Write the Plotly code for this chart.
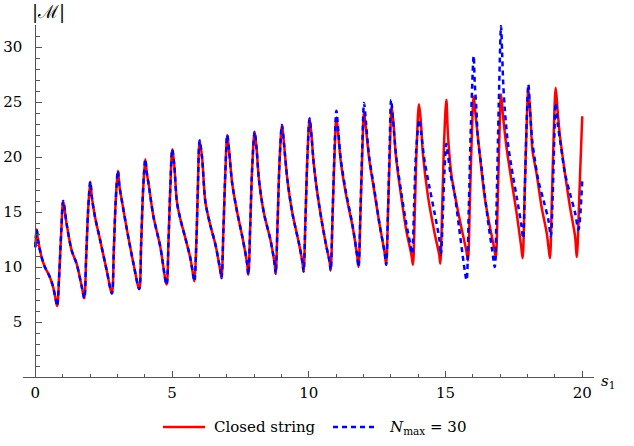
import plotly.graph_objects as go

# ---- data ----
# shared part (both curves coincide up to s ~ 10.8)
s_shared = [0.00, 0.05, 0.10, 0.23, 0.35, 0.53, 0.65, 0.75, 0.80,
            0.88, 0.95, 1.02, 1.14, 1.33, 1.51, 1.70, 1.79,
            1.86, 1.93, 2.01, 2.07, 2.18, 2.37, 2.61, 2.80,
            2.87, 2.94, 3.02, 3.08, 3.16, 3.35, 3.59, 3.80,
            3.87, 3.94, 4.02, 4.08, 4.14, 4.32, 4.57, 4.80,
            4.87, 4.93, 5.01, 5.08, 5.18, 5.30, 5.49, 5.67, 5.79, 5.82,
            5.89, 5.94, 6.01, 6.10, 6.22, 6.40, 6.59, 6.77, 6.81,
            6.88, 6.95, 7.02, 7.09, 7.20, 7.38, 7.57, 7.74, 7.79,
            7.86, 7.93, 8.02, 8.09, 8.18, 8.36, 8.60, 8.75, 8.79,
            8.86, 8.93, 9.02, 9.09, 9.22, 9.40, 9.64, 9.77, 9.81,
            9.88, 9.95, 10.03, 10.10, 10.19, 10.38, 10.62, 10.76, 10.80]
m_shared = [11.8, 13.4, 12.45, 10.9, 10.0, 9.1, 8.2, 7.0, 6.45,
            9.6, 13.3, 16.0, 14.0, 11.5, 10.3, 8.2, 7.15,
            10.9, 15.1, 17.75, 16.3, 14.6, 12.45, 9.7, 7.6,
            11.5, 16.0, 18.75, 17.3, 16.1, 13.4, 10.3, 8.0,
            12.1, 16.9, 19.8, 18.5, 17.6, 14.6, 11.85, 8.4,
            12.3, 16.8, 20.7, 19.3, 15.9, 14.4, 12.6, 10.8, 9.0, 8.7,
            12.3, 16.8, 21.5, 19.9, 15.9, 13.8, 12.0, 9.6, 9.0,
            13.5, 18.7, 22.0, 20.5, 17.6, 15.0, 12.75, 10.4, 9.3,
            13.8, 19.0, 22.3, 20.8, 17.9, 14.9, 12.45, 10.3, 9.4,
            14.1, 19.5, 22.9, 21.3, 17.9, 14.9, 12.15, 10.4, 9.6,
            14.5, 20.0, 23.5, 21.9, 19.2, 15.6, 12.15, 10.5, 9.7]

# closed string, remaining part
s_closed_tail = [10.87, 10.94, 11.01, 11.08, 11.17, 11.36, 11.60, 11.77, 11.82,
                 11.89, 11.96, 12.02, 12.09, 12.21, 12.40, 12.58, 12.78, 12.83,
                 12.90, 12.97, 13.03, 13.10, 13.19, 13.38, 13.56, 13.76, 13.81,
                 13.88, 13.95, 14.03, 14.10, 14.17, 14.36, 14.60, 14.77, 14.81,
                 14.88, 14.95, 15.03, 15.09, 15.21, 15.33, 15.57, 15.76, 15.82,
                 15.89, 15.96, 16.03, 16.10, 16.25, 16.43, 16.62, 16.79, 16.84,
                 16.91, 16.97, 17.03, 17.10, 17.23, 17.41, 17.60, 17.77, 17.82,
                 17.89, 17.96, 18.03, 18.10, 18.18, 18.33, 18.51, 18.70, 18.78, 18.82,
                 18.89, 18.96, 19.03, 19.10, 19.19, 19.37, 19.55, 19.74, 19.80,
                 19.90, 20.00]
m_closed_tail = [14.6, 20.1, 23.6, 22.0, 19.6, 16.6, 13.7, 11.0, 10.0,
                 14.9, 20.6, 24.1, 22.6, 19.8, 16.8, 14.0, 11.2, 10.2,
                 15.2, 21.0, 24.6, 23.0, 20.0, 16.4, 13.4, 11.0, 10.2,
                 15.3, 21.2, 24.8, 23.2, 20.4, 16.4, 13.1, 11.1, 10.3,
                 15.5, 21.5, 25.2, 22.0, 18.5, 16.7, 13.7, 11.5, 10.6,
                 15.8, 21.8, 25.5, 23.8, 20.3, 16.4, 13.7, 11.6, 10.8,
                 16.0, 21.9, 25.7, 23.8, 20.9, 17.9, 14.9, 11.8, 10.8,
                 16.2, 22.4, 26.2, 24.0, 20.6, 18.5, 15.5, 13.1, 11.5, 10.8,
                 16.2, 22.4, 26.3, 24.2, 21.8, 18.5, 15.5, 12.75, 10.9,
                 17.0, 23.7]

# N_max = 30, remaining part
s_nmax_tail = [10.87, 10.94, 11.01, 11.08, 11.17, 11.36, 11.60, 11.77, 11.82,
               11.89, 11.96, 12.02, 12.09, 12.21, 12.40, 12.58, 12.78, 12.83,
               12.90, 12.96, 13.01, 13.08, 13.19, 13.38, 13.56, 13.72, 13.78,
               13.85, 13.92, 14.04, 14.11, 14.23, 14.41, 14.60, 14.78, 14.83,
               14.90, 14.96, 15.03, 15.10, 15.18, 15.33, 15.49, 15.62, 15.72, 15.77,
               15.85, 15.93, 16.03, 16.07, 16.13, 16.19, 16.31, 16.43, 16.58, 16.71, 16.80,
               16.87, 16.95, 17.03, 17.07, 17.11, 17.17, 17.27, 17.41, 17.60, 17.78, 17.84,
               17.90, 17.96, 18.03, 18.09, 18.17, 18.27, 18.39, 18.58, 18.76, 18.85,
               18.92, 18.97, 19.03, 19.10, 19.22, 19.37, 19.55, 19.74, 19.86, 20.00]
m_nmax_tail = [14.8, 20.5, 24.2, 22.4, 19.8, 16.8, 13.8, 11.0, 10.0,
               15.2, 21.2, 24.9, 23.2, 20.0, 17.0, 14.0, 11.2, 10.2,
               15.4, 21.3, 25.2, 23.4, 20.2, 16.8, 14.0, 12.0, 11.2,
               15.5, 20.3, 23.4, 22.2, 19.7, 17.3, 14.9, 12.45, 11.1,
               14.6, 18.6, 21.2, 20.0, 18.5, 16.7, 13.7, 11.2, 9.4, 8.8,
               15.2, 23.0, 29.2, 26.7, 24.3, 21.5, 19.2, 16.7, 13.7, 11.5, 10.0,
               16.0, 25.0, 31.9, 29.5, 26.7, 24.3, 21.5, 19.1, 16.4, 13.7, 12.6,
               17.0, 22.5, 26.6, 24.3, 21.5, 19.7, 17.9, 16.1, 14.3, 12.8,
               16.5, 21.0, 24.9, 23.1, 21.0, 18.5, 16.7, 14.9, 13.4, 17.9]

x_ticks = [0, 5, 10, 15, 20]
y_ticks = [5, 10, 15, 20, 25, 30]
series_names = ["Closed string", "<i>N</i><sub>max</sub> = 30"]

s_closed = s_shared + s_closed_tail
m_closed = m_shared + m_closed_tail
s_nmax = s_shared + s_nmax_tail
m_nmax = m_shared + m_nmax_tail

FONT = "DejaVu Serif"
AX = "#555555"
RED = "#ff0000"
BLUE = "#0000ff"
DASH = "5px,4px"
x_range = [-0.45, 20.43]

# plot-area geometry (pixels) used to place the hand-made legend
L, R, T, B = 23, 40, 25, 69
W, H = 634, 446
pw, ph = W - L - R, H - T - B


def px_x(p):
    return (p - L) / pw


def px_y(p):
    return (H - B - p) / ph


fig = go.Figure()
fig.add_trace(go.Scatter(x=s_closed, y=m_closed, mode="lines", name=series_names[0],
                         line=dict(color=RED, width=2.5, shape="spline", smoothing=0.9)))
fig.add_trace(go.Scatter(x=s_nmax, y=m_nmax, mode="lines", name=series_names[1],
                         line=dict(color=BLUE, width=2.5, dash=DASH,
                                   shape="spline", smoothing=0.9)))

leg_y = px_y(427)
shapes = [
    dict(type="line", xref="paper", yref="paper", x0=px_x(163), x1=px_x(205),
         y0=leg_y, y1=leg_y, line=dict(color=RED, width=2.5)),
    dict(type="line", xref="paper", yref="paper", x0=px_x(333), x1=px_x(378),
         y0=leg_y, y1=leg_y, line=dict(color=BLUE, width=2.5, dash=DASH)),
]

fig.update_layout(
    width=W, height=H,
    margin=dict(l=L, r=R, t=T, b=B, autoexpand=False),
    paper_bgcolor="white", plot_bgcolor="white",
    font=dict(family=FONT, size=15, color="black"),
    showlegend=False,
    shapes=shapes,
    xaxis=dict(range=x_range, showline=True, linecolor=AX, linewidth=1, automargin=False,
               showgrid=False, zeroline=False, ticks="inside", ticklen=6, tickcolor=AX,
               tickmode="array", tickvals=x_ticks, ticklabelstandoff=2,
               minor=dict(tickmode="linear", tick0=0, dtick=1, ticks="inside", ticklen=3.5,
                          tickcolor=AX, showgrid=False),
               tickfont=dict(family=FONT, size=15, color="black")),
    yaxis=dict(range=[0, 32], anchor="free", automargin=False,
               position=(0 - x_range[0]) / (x_range[1] - x_range[0]),
               showline=True, linecolor=AX, linewidth=1,
               showgrid=False, zeroline=False, ticks="inside", ticklen=6, tickcolor=AX,
               tickmode="array", tickvals=y_ticks, ticklabelstandoff=10,
               minor=dict(tickmode="linear", tick0=0, dtick=1, ticks="inside", ticklen=3.5,
                          tickcolor=AX, showgrid=False),
               tickfont=dict(family=FONT, size=15, color="black")),
    annotations=[
        dict(text="|ℳ|", xref="paper", yref="paper", x=0.0438, y=1.037,
             xanchor="center", yanchor="middle", showarrow=False,
             font=dict(family=FONT, size=18, color="black")),
        dict(text="<i>s</i><sub>1</sub>", xref="paper", yref="paper", x=1.024, y=-0.012,
             xanchor="center", yanchor="middle", showarrow=False,
             font=dict(family=FONT, size=15, color="black")),
        dict(text=series_names[0], xref="paper", yref="paper", x=px_x(212), y=leg_y,
             xanchor="left", yanchor="middle", showarrow=False,
             font=dict(family=FONT, size=15, color="black")),
        dict(text=series_names[1], xref="paper", yref="paper", x=px_x(387), y=leg_y,
             xanchor="left", yanchor="middle", showarrow=False,
             font=dict(family=FONT, size=15, color="black")),
    ],
)

fig.write_html("out.html")
